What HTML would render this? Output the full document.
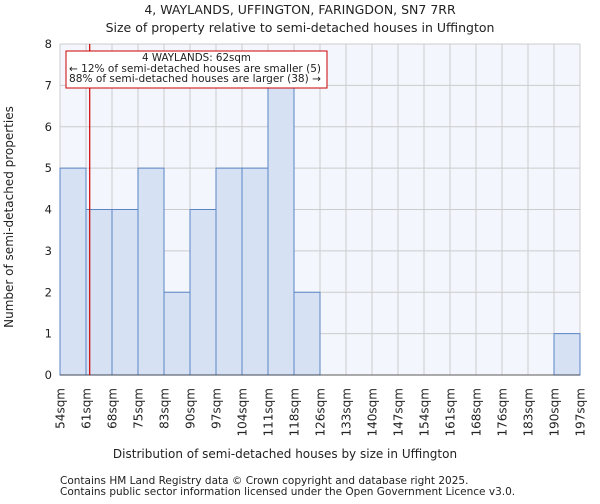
<!DOCTYPE html>
<html><head><meta charset="utf-8"><style>
body{margin:0;background:#fff;font-family:"DejaVu Sans","Liberation Sans",sans-serif}
svg text{font-family:"DejaVu Sans","Liberation Sans",sans-serif;fill:#222}
</style></head><body>
<svg id="c" width="600" height="500" xmlns="http://www.w3.org/2000/svg">
<text x="300" y="14" font-size="12.5" text-anchor="middle">4, WAYLANDS, UFFINGTON, FARINGDON, SN7 7RR</text>
<text x="300" y="32" font-size="12.5" text-anchor="middle">Size of property relative to semi-detached houses in Uffington</text>
<text x="285" y="458" font-size="12" text-anchor="middle">Distribution of semi-detached houses by size in Uffington</text>
<text transform="translate(13,217) rotate(-90)" font-size="12" text-anchor="middle">Number of semi-detached properties</text>
<text x="60" y="484" font-size="10.5">Contains HM Land Registry data © Crown copyright and database right 2025.</text>
<text x="60" y="495" font-size="10.5">Contains public sector information licensed under the Open Government Licence v3.0.</text>
<g id="plot"></g>
</svg>
<script>
const edges=[54,61,68,75,83,90,97,104,111,118,126,133,140,147,154,161,168,176,183,190,197];
const counts=[5,4,4,5,2,4,5,5,7,2,0,0,0,0,0,0,0,0,0,1];
const yTicks=[0,1,2,3,4,5,6,7,8];
const markerValue=62;
const L=60,R=580,T=44,B=375,YMAX=8;
const NS="http://www.w3.org/2000/svg";
const g=document.getElementById('plot');
const bw=(R-L)/(edges.length-1);
function xi(i){return L+i*bw;}
function xv(v){for(let i=0;i<edges.length-1;i++){if(v<=edges[i+1])return xi(i)+(v-edges[i])/(edges[i+1]-edges[i])*bw;}return R;}
function y(v){return B-v/YMAX*(B-T);}
function el(t,a){const e=document.createElementNS(NS,t);for(const k in a)e.setAttribute(k,a[k]);g.appendChild(e);return e;}
let bg=el('rect',{x:L,y:T,width:R-L,height:B-T,fill:'#f3f6fd'});


yTicks.forEach(t=>{
 let l=el('line',{x1:L,x2:R,y1:y(t),y2:y(t),stroke:'#cccccc','stroke-width':1});
 
 
 let tx=el('text',{x:L-8,y:y(t)+4,'font-size':11.5,'text-anchor':'end'});tx.textContent=t;
 
 
});
edges.forEach((e,i)=>{
 let l=el('line',{x1:xi(i),x2:xi(i),y1:T,y2:B,stroke:'#cccccc','stroke-width':1});
 
 
 let tx=el('text',{transform:`translate(${xi(i)+4.5},${B+13}) rotate(-90)`,'font-size':12,'text-anchor':'end'});tx.textContent=e+'sqm';
 
 
});
counts.forEach((c,i)=>{
 if(c<=0)return;
 let r=el('rect',{x:xi(i),y:y(c),width:bw,height:B-y(c),fill:'#d6e2f3',stroke:'#5b84c4','stroke-width':1});
 
 
});
let ax=el('line',{x1:L,x2:R,y1:B,y2:B,stroke:'#333','stroke-width':0.8});


let mx=xv(markerValue);
let ml=el('line',{x1:mx,x2:mx,y1:T,y2:B,stroke:'#cc0000','stroke-width':1.2});


let box=el('rect',{x:66,y:51,width:261,height:37,fill:'#fff',stroke:'#cc0000','stroke-width':1});


[['4 WAYLANDS: 62sqm',61,196.5,'middle'],['← 12% of semi-detached houses are smaller (5)',72,69,'start'],['88% of semi-detached houses are larger (38) →',82,69,'start']].forEach(([s,yy,xx,an])=>{
 let t=el('text',{x:xx,y:yy,'font-size':10.3,'text-anchor':an,textLength:an==='start'?252:'',lengthAdjust:'spacingAndGlyphs'});t.textContent=s;
 if(an!=='start')t.removeAttribute('textLength');
 
 
});
</script>
</body></html>
